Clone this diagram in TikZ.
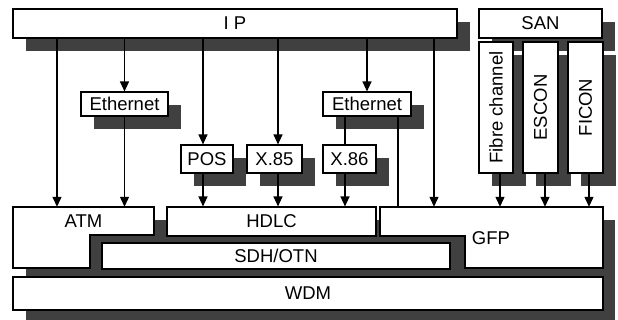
\documentclass[tikz,border=0pt]{standalone}
\usepackage{fontspec}
\setmainfont{Liberation Sans}
\usepackage{graphicx}
\usetikzlibrary{arrows.meta,shadows}
\newcommand{\fsz}{\fontsize{18.5}{20}\selectfont}
\tikzset{
  box/.style={draw=black, line width=1.1pt, fill=white, inner sep=0pt, font=\fsz},
  sbox/.style={box, drop shadow={shadow xshift=13pt, shadow yshift=-13pt, fill=black!75, opacity=1}},
  anchorbox/.style={draw=none, inner sep=0pt, font=\fsz},
  shadowfill/.style={fill=black!75},
  arr/.style={line width=1.2pt, -{Triangle[length=10pt,width=9pt]}},
  ln/.style={line width=1.2pt},
}
\begin{document}
\begin{tikzpicture}[x=1pt, y=-1pt]
\useasboundingbox (0,0) rectangle (618,320);
% top row
\node[sbox, minimum width=444, minimum height=29] (ip) at (235,23.5) {I P};
\node[sbox, minimum width=123, minimum height=29] (san) at (540.5,23.5) {SAN};
\node[sbox, minimum width=34, minimum height=131] (fc) at (496,107.5) {\rotatebox{90}{Fibre channel}};
\node[sbox, minimum width=35, minimum height=131] (escon) at (540.5,107.5) {\rotatebox{90}{ESCON}};
\node[sbox, minimum width=35, minimum height=131] (ficon) at (585.5,107.5) {\rotatebox{90}{FICON}};
\node[sbox, minimum width=87, minimum height=24] (ethL) at (124.5,104) {Ethernet};
\node[sbox, minimum width=88, minimum height=24] (ethR) at (367,104) {Ethernet};
\node[sbox, minimum width=52, minimum height=28] (pos) at (207,159) {POS};
\node[sbox, minimum width=55, minimum height=28] (x85) at (274.5,159) {X.85};
\node[sbox, minimum width=53, minimum height=28] (x86) at (349.5,159) {X.86};
% lower stack
\fill[shadowfill] (26,220) rectangle (615,320);
\draw[box] (13,207) -- (154,207) -- (154,235) -- (90,235) -- (90,268) -- (13,268) -- cycle;
\draw[box] (380,207) -- (603,207) -- (603,268) -- (465,268) -- (465,236) -- (380,236) -- cycle;
\node[anchorbox, minimum width=141, minimum height=28] (atm) at (83.5,221) {ATM};
\node[anchorbox, minimum width=223, minimum height=29] (gfp) at (491.5,221.5) {};
\node[anchorbox] (gfptxt) at (491,238) {GFP};
\node[box, minimum width=209, minimum height=29] (hdlc) at (271.5,221.5) {HDLC};
\node[box, minimum width=348, minimum height=26] (sdh) at (276,256) {SDH/OTN};
\node[box, minimum width=590, minimum height=33] (wdm) at (308,293.5) {WDM};
% connectors
\draw[arr] (57,0 |- ip.south) -- (57,0 |- atm.north);
\draw[arr] (ip.south -| ethL.north) -- (ethL.north);
\draw[arr] (ethL.south) -- (ethL.south |- atm.north);
\draw[arr] (203,0 |- ip.south) -- (203,0 |- pos.north);
\draw[arr] (203,0 |- pos.south) -- (203,0 |- hdlc.north);
\draw[arr] (278,0 |- ip.south) -- (278,0 |- x85.north);
\draw[arr] (278,0 |- x85.south) -- (278,0 |- hdlc.north);
\draw[arr] (ip.south -| ethR.north) -- (ethR.north);
\draw[ln] (345,0 |- ethR.south) -- (345,0 |- x86.north);
\draw[arr] (345,0 |- x86.south) -- (345,0 |- hdlc.north);
\draw[ln] (398,0 |- ethR.south) -- (398,0 |- gfp.north);
\draw[arr] (434,0 |- ip.south) -- (434,0 |- gfp.north);
\draw[arr] (500,0 |- fc.south) -- (500,0 |- gfp.north);
\draw[arr] (545,0 |- escon.south) -- (545,0 |- gfp.north);
\draw[arr] (589,0 |- ficon.south) -- (589,0 |- gfp.north);
\end{tikzpicture}
\end{document}
